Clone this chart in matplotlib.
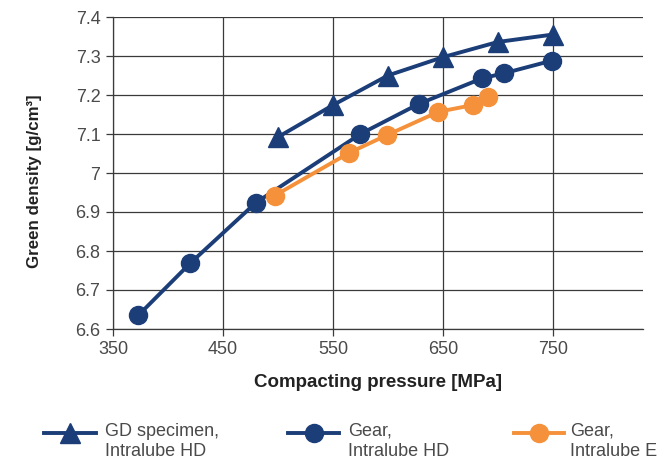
import matplotlib
matplotlib.use("Agg")
import matplotlib.pyplot as plt
from matplotlib.lines import Line2D

# Data
gd_x = [500, 550, 600, 650, 700, 750]
gd_y = [7.092, 7.174, 7.25, 7.297, 7.336, 7.355]
hd_x = [373, 420, 480, 575, 628, 686, 706, 749]
hd_y = [6.635, 6.768, 6.924, 7.10, 7.177, 7.243, 7.256, 7.288]
e_x = [497, 565, 599, 646, 677, 691]
e_y = [6.942, 7.052, 7.097, 7.157, 7.174, 7.196]
labels = ["GD specimen,\nIntralube HD", "Gear,\nIntralube HD", "Gear,\nIntralube E"]
xticks = [350, 450, 550, 650, 750]
yticks = [6.6, 6.7, 6.8, 6.9, 7.0, 7.1, 7.2, 7.3, 7.4]
ytick_labels = ["6.6", "6.7", "6.8", "6.9", "7", "7.1", "7.2", "7.3", "7.4"]

navy = "#1b3d78"
orange = "#f5913a"
gridc = "#3a3a3a"
W, H = 667, 467

fig = plt.figure(figsize=(W / 100, H / 100), dpi=100)
ax = fig.add_axes([113 / W, 1 - 329 / H, (643 - 113) / W, (329 - 17) / H])

ax.plot(gd_x, gd_y, color=navy, lw=2.8, marker="^", ms=15, mec=navy, zorder=5, clip_on=False)
ax.plot(hd_x, hd_y, color=navy, lw=2.8, marker="o", ms=13, mec=navy, zorder=5, clip_on=False)
ax.plot(e_x, e_y, color=orange, lw=2.8, marker="o", ms=13, mec=orange, zorder=6, clip_on=False)

ax.set_xlim(350, 832)
ax.set_ylim(6.6, 7.4)
ax.set_xticks(xticks)
ax.set_yticks(yticks)
ax.set_yticklabels(ytick_labels)
ax.grid(True, color=gridc, lw=0.9)
ax.set_axisbelow(True)
for s in ["top", "right"]:
    ax.spines[s].set_visible(False)
for s in ["left", "bottom"]:
    ax.spines[s].set_color(gridc)
    ax.spines[s].set_linewidth(0.9)
ax.tick_params(axis="both", color=gridc, length=5, width=0.9, labelsize=13,
               labelcolor="#4a4a4a", pad=4)
for lab in ax.get_xticklabels() + ax.get_yticklabels():
    lab.set_family("Liberation Sans")

ax.set_xlabel("Compacting pressure [MPa]", fontsize=13.5, fontweight="bold",
              family="Liberation Sans", color="#222222", labelpad=11)
ax.set_ylabel("Green density [g/cm³]", fontsize=12.2, fontweight="bold",
              family="Liberation Sans", color="#222222")
ax.yaxis.set_label_coords(-0.134, 0.474)

# Legend drawn manually
entries = [
    (44, 96, 105, navy, "^", 15),
    (288, 339, 348, navy, "o", 13),
    (514, 564, 570, orange, "o", 13),
]
ly = 433
for (x0, x1, tx, c, m, ms), lab in zip(entries, labels):
    fig.add_artist(Line2D([x0 / W, x1 / W], [1 - ly / H, 1 - ly / H], color=c, lw=2.8,
                          transform=fig.transFigure))
    fig.add_artist(Line2D([(x0 + x1) / 2 / W], [1 - ly / H], color=c, marker=m, ms=ms,
                          mec=c, transform=fig.transFigure))
    fig.text(tx / W, 1 - (ly - 10) / H, lab, fontsize=13, va="top", ha="left",
             family="Liberation Sans", color="#4a4a4a", linespacing=1.25)

fig.savefig("out.png", dpi=100)
